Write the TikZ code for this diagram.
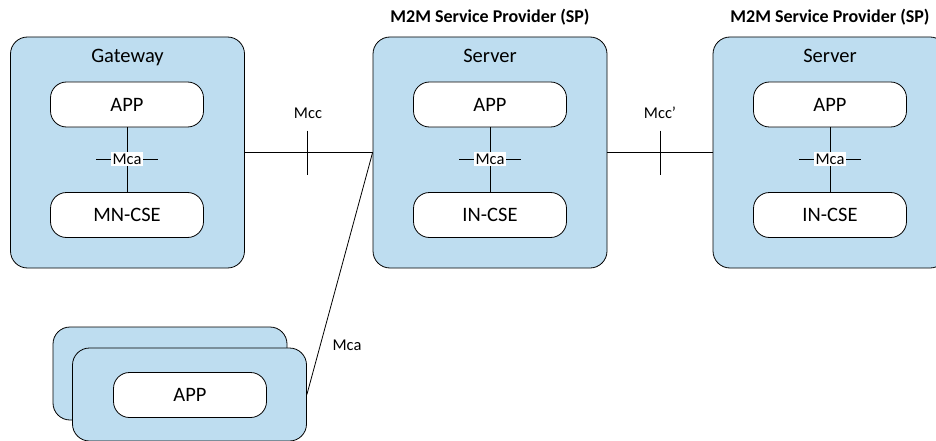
\documentclass[tikz,border=0pt]{standalone}
\usepackage{fontspec}
\setmainfont{Carlito}
\usetikzlibrary{positioning}

\definecolor{paleblue}{RGB}{190,221,240}
\newcommand{\bigtext}{\fontsize{20.5}{24}\selectfont}
\newcommand{\smalltext}{\fontsize{16.5}{20}\selectfont}
\newcommand{\titletext}{\fontsize{18}{21}\selectfont\bfseries}

\tikzset{
  domainbox/.style={draw, fill=paleblue, rounded corners=17pt, minimum width=234pt, minimum height=231pt},
  devicebox/.style={draw, fill=paleblue, rounded corners=17pt, minimum width=234pt, minimum height=93pt},
  entitybox/.style={draw, fill=white, rounded corners=16pt, minimum width=153pt, minimum height=45pt, font=\bigtext},
  boxname/.style={font=\bigtext, anchor=base},
  reflabel/.style={font=\smalltext, inner sep=2pt},
}

\begin{document}
\begin{tikzpicture}[x=1pt, y=-1pt, line width=0.8pt]
    \useasboundingbox (0,0) rectangle (936,441);

    % gateway and the two servers
    \node[domainbox] (gw) at (127.5,152.5) {};
    \node[domainbox] (spa) at (490,152.5) {};
    \node[domainbox] (spb) at (830,152.5) {};
    \node[boxname] (gwname) at ([yshift=-26pt]gw.north) {Gateway};
    \node[boxname] (spaname) at ([yshift=-26pt]spa.north) {Server};
    \node[boxname] (spbname) at ([yshift=-26pt]spb.north) {Server};
    \node[font=\titletext] (spatitle) at (490,17) {M2M Service Provider (SP)};
    \node[font=\titletext] (spbtitle) at (830,17) {M2M Service Provider (SP)};

    \node[entitybox] (gwapp) at (127,104.5) {APP};
    \node[entitybox] (gwcse) at (127,215) {MN-CSE};
    \node[entitybox] (spaapp) at (490,104.5) {APP};
    \node[entitybox] (spacse) at (490,215) {IN-CSE};
    \node[entitybox] (spbapp) at (830,104.5) {APP};
    \node[entitybox] (spbcse) at (830,215) {IN-CSE};

    % Mca inside each box
    \foreach \c in {gw,spa,spb}{
        \draw (\c app) -- coordinate[pos=0.49] (\c mid) (\c cse);
        \draw ([xshift=-31pt]\c mid) -- ([xshift=31pt]\c mid);
        \node[reflabel, fill=white] (\c mca) at (\c mid) {Mca};
    }

    % Mcc and Mcc'
    \draw (gw.east) -- coordinate[pos=0.49] (mcc) (spa.west);
    \draw ([yshift=22pt]mcc) -- ([yshift=-22pt]mcc);
    \node[reflabel] (mcclabel) at (308,113) {Mcc};
    \draw (spa.east) -- coordinate[pos=0.5] (mccp) (spb.west);
    \draw ([yshift=22pt]mccp) -- ([yshift=-22pt]mccp);
    \node[reflabel] (mccplabel) at (660,113) {Mcc’};

    % stacked devices
    \node[devicebox] (devback) at (170,373.5) {};
    \node[devicebox] (devfront) at (189.5,394.5) {};
    \node[entitybox] (devapp) at (190,395) {APP};
    \draw (devfront.east) -- (spa.west);
    \node[reflabel] (devmca) at (347,345) {Mca};
\end{tikzpicture}
\end{document}
